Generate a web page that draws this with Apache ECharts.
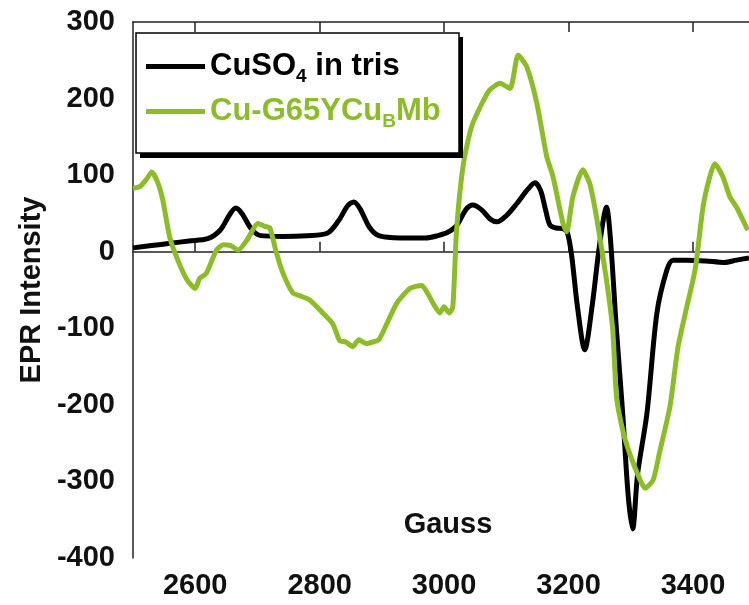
<!DOCTYPE html>
<html>
<head>
<meta charset="utf-8">
<script src="https://cdn.jsdelivr.net/npm/echarts@6/dist/echarts.min.js"></script>
<style>
  html, body { margin: 0; padding: 0; background: #fff; }
  #chart { width: 749px; height: 605px; }
</style>
</head>
<body>
<div id="chart"></div>
<script>
// ---- Data ----
const seriesNames = ['CuSO4 in tris', 'Cu-G65YCuBMb'];

// Gauss values and intensities for CuSO4 in tris
const cuso4Gauss = [2500, 2530, 2560, 2590, 2620, 2640, 2655, 2665, 2675, 2690, 2705, 2740, 2780, 2812, 2830, 2845, 2855, 2865, 2880, 2895, 2930, 2970, 2990, 3005, 3020, 3035, 3046, 3060, 3075, 3085, 3100, 3117, 3135, 3146, 3155, 3163, 3170, 3180, 3191, 3198, 3205, 3214, 3226, 3238, 3250, 3261, 3267, 3277, 3287, 3296, 3303, 3311, 3326, 3342, 3358, 3368, 3390, 3420, 3450, 3470, 3490];
const cuso4Values = [5, 8, 11, 14, 17, 28, 48, 57, 50, 30, 21, 20, 21, 24, 40, 60, 65, 56, 32, 21, 18, 18, 21, 25, 34, 55, 61, 55, 42, 39, 47, 63, 82, 90, 80, 55, 35, 31, 30, 25, -5, -70, -128, -70, 10, 58, 20, -102, -211, -320, -362, -290, -211, -80, -24, -11, -11, -12, -14, -11, -8];

// Gauss values and intensities for Cu-G65YCuBMb
const mbGauss = [2500, 2511, 2522, 2530, 2540, 2548, 2559, 2572, 2587, 2600, 2607, 2618, 2634, 2645, 2657, 2669, 2683, 2701, 2712, 2720, 2730, 2741, 2757, 2770, 2784, 2805, 2821, 2832, 2842, 2853, 2863, 2875, 2885, 2895, 2908, 2924, 2945, 2964, 2974, 2982, 2993, 3000, 3008, 3014, 3020, 3031, 3044, 3058, 3073, 3090, 3106, 3119, 3133, 3149, 3165, 3175, 3191, 3197, 3207, 3223, 3234, 3245, 3261, 3271, 3277, 3287, 3298, 3315, 3323, 3336, 3346, 3363, 3376, 3390, 3400, 3405, 3416, 3427, 3435, 3448, 3459, 3470, 3488];
const mbValues = [83, 85, 95, 104, 90, 67, 19, -11, -37, -48, -35, -28, 2, 9, 8, 2, 15, 37, 33, 31, 0, -28, -54, -58, -63, -80, -94, -116, -118, -124, -115, -120, -118, -115, -94, -67, -48, -44, -55, -67, -80, -72, -80, -72, 28, 115, 163, 189, 211, 220, 213, 257, 241, 194, 124, 98, 37, 26, 72, 107, 89, 45, -37, -102, -189, -233, -263, -298, -309, -298, -263, -202, -124, -72, -37, -15, 58, 98, 115, 98, 72, 58, 28];

// Axis ticks and titles
const xTickValues = [2600, 2800, 3000, 3200, 3400];
const yMin = -400, yMax = 300, yStep = 100;
const xMin = 2500, xMax = 3490;
const xTitle = 'Gauss';
const yTitle = 'EPR Intensity';

const colors = ['#000000', '#8cbc2a'];

function pairs(xs, ys) { return xs.map((x, i) => [x, ys[i]]); }

const FONT = '"Liberation Sans", Arial, sans-serif';

const chart = echarts.init(document.getElementById('chart'), null, { renderer: 'canvas' });
const axisLineStyle = { color: '#222', width: 1.5 };

chart.setOption({
  animation: false,
  backgroundColor: '#fff',
  grid: { left: 133, top: 22, right: 0, bottom: 47, containLabel: false, outerBoundsMode: 'none' },
  xAxis: [
    {
      type: 'value', position: 'bottom', min: xMin, max: xMax,
      axisLine: { show: true, lineStyle: axisLineStyle },
      axisTick: { show: true, inside: true, length: 10, customValues: xTickValues, lineStyle: { color: '#222', width: 1.5 } },
      axisLabel: { customValues: xTickValues, formatter: v => String(v), fontFamily: FONT, fontWeight: 'bold', fontSize: 29, color: '#111', margin: 13 },
      splitLine: { show: false }
    },
    {
      type: 'value', position: 'top', min: xMin, max: xMax,
      axisLine: { show: true, lineStyle: axisLineStyle },
      axisTick: { show: true, inside: true, length: 10, customValues: xTickValues, lineStyle: { color: '#222', width: 1.5 } },
      axisLabel: { show: false },
      splitLine: { show: false }
    }
  ],
  yAxis: {
    type: 'value', min: yMin, max: yMax, interval: yStep,
    axisLine: { show: true, lineStyle: axisLineStyle },
    axisTick: { show: false },
    axisLabel: { formatter: v => String(v), fontFamily: FONT, fontWeight: 'bold', fontSize: 29, color: '#111', margin: 18 },
    splitLine: { show: false },
    name: yTitle, nameLocation: 'middle', nameGap: 87, nameRotate: 90,
    nameTextStyle: { fontFamily: FONT, fontWeight: 'bold', fontSize: 29, color: '#111' }
  },
  graphic: [
    { type: 'rect', z: 10, shape: { x: 140, y: 37, width: 323, height: 121 }, style: { fill: '#000' } },
    { type: 'rect', z: 11, shape: { x: 136, y: 33, width: 323, height: 120 }, style: { fill: '#fff', stroke: '#000', lineWidth: 1.5 } },
    { type: 'text', z: 12, x: 448, y: 525, style: { text: xTitle, font: 'bold 29px "Liberation Sans", Arial, sans-serif', fill: '#111', textAlign: 'center', textVerticalAlign: 'middle' } }
  ],
  legend: {
    orient: 'vertical',
    left: 136, top: 33,
    padding: [14, 16, 28, 10],
    itemGap: 6,
    itemWidth: 59, itemHeight: 5,
    icon: 'rect',
    z: 20,
    data: seriesNames,
    formatter: function (name) {
      if (name === seriesNames[0]) return '{a|CuSO}{as|4}{a| in tris}';
      return '{g|Cu-G65YCu}{gs|B}{g|Mb}';
    },
    textStyle: {
      fontFamily: FONT, fontWeight: 'bold', fontSize: 31,
      rich: {
        a: { fontFamily: FONT, fontWeight: 'bold', fontSize: 31, color: '#000', lineHeight: 36 },
        as: { fontFamily: FONT, fontWeight: 'bold', fontSize: 19, color: '#000', lineHeight: 36, padding: [20, 0, 0, 0] },
        g: { fontFamily: FONT, fontWeight: 'bold', fontSize: 31, color: colors[1], lineHeight: 36 },
        gs: { fontFamily: FONT, fontWeight: 'bold', fontSize: 19, color: colors[1], lineHeight: 36, padding: [20, 0, 0, 0] }
      }
    }
  },
  series: [
    {
      name: seriesNames[0], type: 'line', xAxisIndex: 0,
      data: pairs(cuso4Gauss, cuso4Values),
      showSymbol: false, smooth: 0.3,
      lineStyle: { color: colors[0], width: 5 },
      itemStyle: { color: colors[0] },
      z: 2
    },
    {
      name: seriesNames[1], type: 'line', xAxisIndex: 0,
      data: pairs(mbGauss, mbValues),
      showSymbol: false, smooth: 0.2,
      lineStyle: { color: colors[1], width: 5 },
      itemStyle: { color: colors[1] },
      z: 3
    }
  ]
});
</script>
</body>
</html>
